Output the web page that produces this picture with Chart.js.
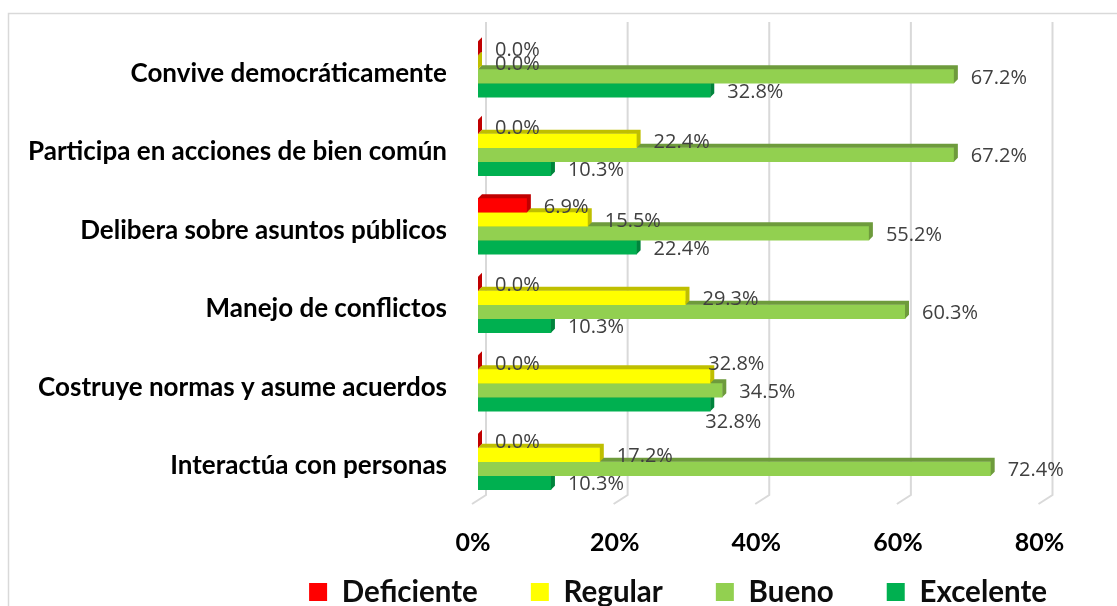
<!DOCTYPE html>
<html>
<head>
<meta charset="utf-8">
<script src="https://cdn.jsdelivr.net/npm/chart.js@4.4.1/dist/chart.umd.min.js"></script>
<style>
  body { margin: 0; background: #fff; }
</style>
</head>
<body>
<canvas id="nivelesChart" width="1117" height="606"></canvas>
<script>
// competencias, de arriba hacia abajo
var categorias = ['Convive democráticamente', 'Participa en acciones de bien común', 'Delibera sobre asuntos públicos', 'Manejo de conflictos', 'Costruye normas y asume acuerdos', 'Interactúa con personas'];

// porcentajes por nivel
var deficiente = [0.0, 0.0, 6.9, 0.0, 0.0, 0.0];
var regular = [0.0, 22.4, 15.5, 29.3, 32.8, 17.2];
var bueno = [67.2, 67.2, 55.2, 60.3, 34.5, 72.4];
var excelente = [32.8, 10.3, 22.4, 10.3, 32.8, 10.3];

var ticksX = [0, 20, 40, 60, 80];

var colores = ['#FF0000', '#FFFF00', '#92D050', '#00B050'];
var sombras = ['#C00000', '#BFBF00', '#6E9B3C', '#00843C'];

// etiquetas que en el original estaban movidas a mano (dataset-categoria)
var ajustes = { '1-4': [-19, -14], '3-4': [-22, 16] };

var fuente = "Lato, 'Open Sans', sans-serif";

// marco y fondo
var marco = {
    id: 'marco',
    beforeDraw: function (chart) {
        var ctx = chart.ctx;
        ctx.save();
        ctx.fillStyle = '#fff';
        ctx.fillRect(0, 0, chart.width, chart.height);
        ctx.strokeStyle = '#d9d9d9';
        ctx.lineWidth = 1.5;
        ctx.beginPath();
        ctx.moveTo(8.5, chart.height);
        ctx.lineTo(8.5, 13.5);
        ctx.lineTo(chart.width, 13.5);
        ctx.stroke();
        ctx.restore();
    }
};

// lineas de division con pared y piso (efecto 3D)
var rejilla = {
    id: 'rejilla',
    beforeDatasetsDraw: function (chart) {
        var ctx = chart.ctx, xs = chart.scales.x, area = chart.chartArea;
        ctx.save();
        ctx.strokeStyle = '#d9d9d9';
        ctx.lineWidth = 2;
        ticksX.forEach(function (v) {
            var px = xs.getPixelForValue(v);
            ctx.beginPath();
            ctx.moveTo(px + 8, area.top - 8);
            ctx.lineTo(px + 8, area.bottom - 6);
            ctx.lineTo(px - 6, area.bottom + 3);
            ctx.stroke();
        });
        ctx.restore();
    }
};

// caras superior y lateral de cada barra
var bisel = {
    id: 'bisel',
    afterDatasetDraw: function (chart, args) {
        var ctx = chart.ctx, d = 4;
        ctx.save();
        ctx.fillStyle = sombras[args.index];
        args.meta.data.forEach(function (bar) {
            var p = bar.getProps(['x', 'y', 'base', 'height'], true);
            var x0 = Math.min(p.base, p.x), x1 = Math.max(p.base, p.x);
            var yTop = p.y - p.height / 2, yBot = p.y + p.height / 2;
            ctx.beginPath();
            ctx.moveTo(x0, yTop);
            ctx.lineTo(x0 + d, yTop - d);
            ctx.lineTo(x1 + d, yTop - d);
            ctx.lineTo(x1 + d, yBot - d);
            ctx.lineTo(x1, yBot);
            ctx.lineTo(x1, yTop);
            ctx.closePath();
            ctx.fill();
        });
        ctx.restore();
    }
};

// etiquetas de valor
var etiquetas = {
    id: 'etiquetas',
    afterDatasetsDraw: function (chart) {
        var ctx = chart.ctx;
        ctx.save();
        ctx.font = "20px 'Open Sans', sans-serif";
        ctx.fillStyle = '#404040';
        ctx.textAlign = 'left';
        ctx.textBaseline = 'middle';
        chart.data.datasets.forEach(function (ds, i) {
            chart.getDatasetMeta(i).data.forEach(function (bar, j) {
                var aj = ajustes[i + '-' + j] || [0, 0];
                var p = bar.getProps(['x', 'y'], true);
                ctx.fillText(ds.data[j].toFixed(1) + '%', p.x + 17 + aj[0], p.y + 2 + aj[1]);
            });
        });
        ctx.restore();
    }
};

var ctx = document.getElementById('nivelesChart').getContext('2d');
var nivelesChart = new Chart(ctx, {
    type: 'bar',
    data: {
        labels: categorias,
        datasets: [
            { label: 'Deficiente', data: deficiente, backgroundColor: colores[0] },
            { label: 'Regular', data: regular, backgroundColor: colores[1] },
            { label: 'Bueno', data: bueno, backgroundColor: colores[2] },
            { label: 'Excelente', data: excelente, backgroundColor: colores[3] }
        ]
    },
    options: {
        indexAxis: 'y',
        responsive: false,
        animation: false,
        barThickness: 14,
        layout: { padding: { top: 30, right: 17, bottom: -10.75, left: 0 } },
        scales: {
            x: {
                min: 0,
                max: 80,
                afterBuildTicks: function (s) { s.ticks = ticksX.map(function (v) { return { value: v }; }); },
                afterFit: function (s) { s.height = 23.25; },
                grid: { display: false, drawTicks: false },
                border: { display: false },
                ticks: {
                    mirror: true,
                    padding: -57,
                    labelOffset: -5,
                    color: '#000',
                    font: { family: fuente, size: 25, weight: 'bold' },
                    callback: function (v) { return v + '%'; }
                }
            },
            y: {
                position: 'left',
                afterFit: function (s) {
                    s.width = 478;
                    s.paddingTop = 0;
                    s.paddingBottom = 0;
                },
                grid: { display: false, drawTicks: false },
                border: { display: false },
                ticks: {
                    padding: 31,
                    labelOffset: 4,
                    color: '#000',
                    font: { family: fuente, size: 26, weight: 'bold' }
                }
            },
            y2: {
                type: 'category',
                position: 'right',
                afterFit: function (s) { s.width = 55.5; },
                grid: { display: false, drawTicks: false },
                border: { display: false },
                ticks: { display: false }
            }
        },
        plugins: {
            tooltip: { enabled: false },
            legend: {
                position: 'bottom',
                align: 'end',
                labels: {
                    boxWidth: 18,
                    boxHeight: 18,
                    padding: 53,
                    color: '#0d0d0d',
                    font: { family: fuente, size: 29.5, weight: 'bold' }
                }
            }
        }
    },
    plugins: [marco, rejilla, bisel, etiquetas]
});
</script>
</body>
</html>
